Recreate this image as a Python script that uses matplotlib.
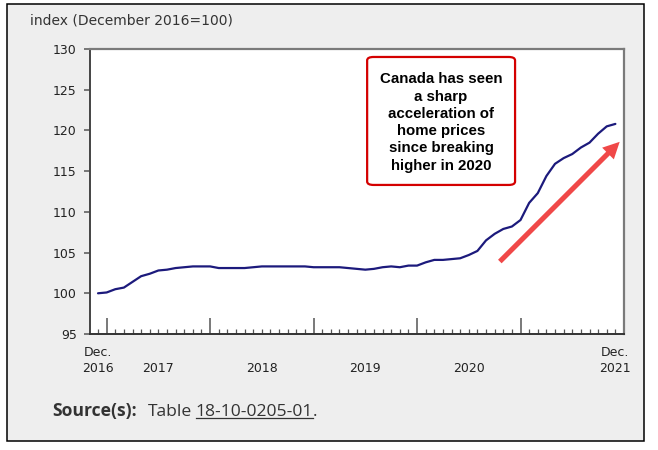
import matplotlib
matplotlib.use("Agg")
import matplotlib.pyplot as plt
import numpy as np
import pandas as pd
from matplotlib.patches import Rectangle, FancyBboxPatch

# New housing price index, monthly, Dec 2016 to Dec 2021
start_month = "2016-12-01"
index_values = [
    100.0, 100.1, 100.5, 100.7, 101.4, 102.1, 102.4, 102.8, 102.9, 103.1,
    103.2, 103.3, 103.3, 103.3, 103.1, 103.1, 103.1, 103.1, 103.2, 103.3,
    103.3, 103.3, 103.3, 103.3, 103.3, 103.2, 103.2, 103.2, 103.2, 103.1,
    103.0, 102.9, 103.0, 103.2, 103.3, 103.2, 103.4, 103.4, 103.8, 104.1,
    104.1, 104.2, 104.3, 104.7, 105.2, 106.5, 107.3, 107.9, 108.2, 109.0,
    111.1, 112.3, 114.4, 115.9, 116.6, 117.1, 117.9, 118.5, 119.6, 120.5,
    120.8,
]
y_ticks = [95, 100, 105, 110, 115, 120, 125, 130]
y_title = "index (December 2016=100)"
note_text = "Canada has seen\na sharp\nacceleration of\nhome prices\nsince breaking\nhigher in 2020"
# arrow start / end as (month index, index value)
arrow_from = (46.6, 103.9)
arrow_to = (60.5, 118.6)

months = pd.date_range(start_month, periods=len(index_values), freq="MS")
x = np.arange(len(index_values))
jan = x[months.month == 1]
other = x[months.month != 1]

fig = plt.figure(figsize=(6.58, 4.5), dpi=100)
fig.patch.set_facecolor("white")
fig.add_artist(Rectangle((7 / 658, 9 / 450), 637 / 658, 437 / 450, transform=fig.transFigure,
                         facecolor="#eeeeee", edgecolor="black", lw=1.1, zorder=0))

ax = fig.add_axes([90 / 658, 1 - 334 / 450, 534 / 658, 285 / 450])
ax.set_facecolor("white")
ax.plot(x, index_values, color="#1c1a7c", lw=1.6, solid_capstyle="round")

ax.set_ylim(95, 130)
ax.set_xlim(-0.93, 61.0)
ax.set_yticks(y_ticks)
ax.tick_params(axis="y", direction="out", length=4.5, width=1.1, color="#555555",
               labelcolor="#222222", labelsize=9, pad=5)
ax.set_xticks(jan)
ax.set_xticks(other, minor=True)
ax.tick_params(axis="x", which="major", direction="in", length=11.5, width=1.1, color="#555555",
               labelbottom=False)
ax.tick_params(axis="x", which="minor", direction="in", length=3.8, width=0.9, color="#555555")

for side in ["top", "right"]:
    ax.spines[side].set_color("#7a7a7a")
    ax.spines[side].set_linewidth(1.6)
ax.spines["left"].set_color("#444444")
ax.spines["left"].set_linewidth(1.4)
ax.spines["bottom"].set_color("#333333")
ax.spines["bottom"].set_linewidth(1.4)

# x labels: Dec. at the ends, years centred between January ticks
lbl = dict(xycoords=("data", "axes fraction"), textcoords="offset points", ha="center",
           va="top", fontsize=9, color="#222222", linespacing=1.25)
ax.annotate(f"Dec.\n{months[0].year}", xy=(x[0], 0), xytext=(0, -9), **lbl)
ax.annotate(f"Dec.\n{months[-1].year}", xy=(x[-1], 0), xytext=(0, -9), **lbl)
for j in jan[:-1]:
    ax.annotate(str(months[j].year), xy=(j + 6, 0), xytext=(0, -20.5), **lbl)

fig.text(30 / 658, 1 - 20 / 450, y_title, fontsize=10, color="#333333", va="center", ha="left")

# call-out box and arrow
ax.add_patch(FancyBboxPatch((0.519, 0.523), 0.277, 0.449, transform=ax.transAxes,
                            boxstyle="round,pad=0,rounding_size=0.012",
                            facecolor="white", edgecolor="#d40000", lw=1.6, zorder=3))
ax.text(0.6575, 0.742, note_text, transform=ax.transAxes, ha="center", va="center",
        fontsize=10.8, fontweight="bold", family="Liberation Sans", color="black",
        linespacing=1.3, zorder=4)
ax.annotate("", xy=arrow_to, xytext=arrow_from,
            arrowprops=dict(arrowstyle="simple,head_width=0.85,head_length=0.85,tail_width=0.26",
                            mutation_scale=14, color="#f04848", shrinkA=0, shrinkB=0, lw=0))

# source line, pieces placed one after another
fig.canvas.draw()
r = fig.canvas.get_renderer()
y_base = 1 - 416 / 450
pieces = [("Source(s):", "bold", False, 0), ("Table", "normal", False, 11), ("18-10-0205-01", "normal", True, 4),
          (".", "normal", False, 0)]
cur = 52
for txt, wt, under, gap in pieces:
    cur += gap
    t = fig.text(cur / 658, y_base, txt, fontsize=12.6, fontweight=wt, family="Open Sans",
                 color="#333333", va="baseline", ha="left")
    bb = t.get_window_extent(renderer=r)
    if under:
        uy = 1 - 418 / 450
        fig.add_artist(plt.Line2D([bb.x0 / 658, bb.x1 / 658], [uy, uy], transform=fig.transFigure,
                                  color="#333333", lw=0.9))
    cur = bb.x1

fig.savefig("out.png", dpi=100, facecolor="white")
